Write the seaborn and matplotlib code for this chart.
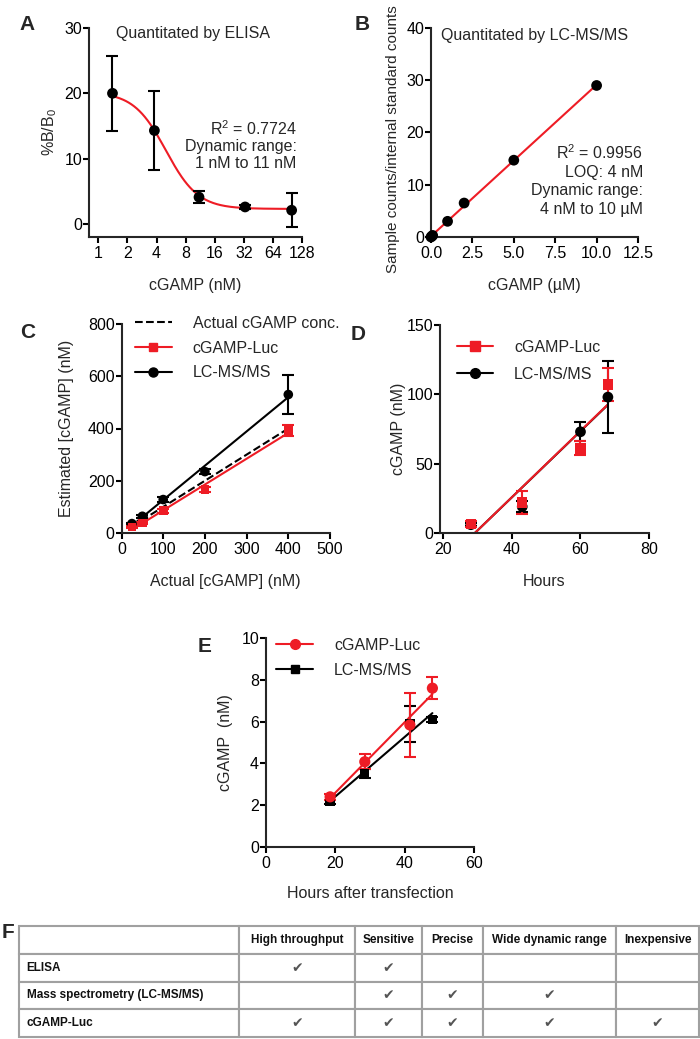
"""Multi-panel cGAMP quantitation figure (A-F)"""

import numpy as np
import matplotlib
matplotlib.use("Agg")
import matplotlib.pyplot as plt
from matplotlib.lines import Line2D
import seaborn as sns

RED = "#ee1c25"
BLACK = "black"

# Panel A - ELISA standard curve
elisa_conc = [1.4, 3.8, 11, 33, 100]
elisa_b = [20.0, 14.3, 4.1, 2.6, 2.1]
elisa_sd = [5.7, 6.0, 0.9, 0.3, 2.6]
# 4PL fit parameters (bottom, top, ec50, hill)
elisa_fit = [2.3, 20.2, 5.0, 2.6]

# Panel B - LC-MS/MS standard curve
ms_conc = [0.0, 0.05, 0.1, 1.0, 2.0, 5.0, 10.0]
ms_ratio = [0.0, 0.15, 0.3, 3.0, 6.5, 14.7, 29.0]

# Panel C - estimated vs actual
actual_conc = [25, 50, 100, 200, 400]
c_luc = [23, 38, 85, 167, 392]
c_luc_sd = [5, 5, 8, 10, 22]
c_ms = [36, 64, 128, 235, 530]
c_ms_sd = [3, 5, 8, 10, 75]

# Panel D - time course
d_hours = [28, 43, 60, 68]
d_luc = [6.6, 22, 61, 107]
d_luc_sd = [2, 8, 5, 12]
d_ms = [6, 19, 73, 98]
d_ms_sd = [1, 4, 7, 26]

# Panel E - hours after transfection
e_hours = [18.5, 28.5, 41.5, 48]
e_luc = [2.4, 4.08, 5.84, 7.6]
e_luc_sd = [0.15, 0.35, 1.55, 0.52]
e_ms = [2.17, 3.53, 5.9, 6.11]
e_ms_sd = [0.1, 0.22, 0.86, 0.12]

# Panel F - comparison table
features = ["High throughput", "Sensitive", "Precise", "Wide dynamic range", "Inexpensive"]
methods = ["ELISA", "Mass spectrometry (LC-MS/MS)", "cGAMP-Luc"]
has_feature = [[1, 1, 0, 0, 0],
               [0, 1, 1, 1, 0],
               [1, 1, 1, 1, 1]]

FS = 11.5

sns.set_style("ticks")
plt.rcParams["font.family"] = ["Liberation Sans", "DejaVu Sans"]
plt.rcParams["mathtext.fontset"] = "custom"
plt.rcParams["mathtext.rm"] = "Liberation Sans"
plt.rcParams["mathtext.default"] = "regular"
plt.rcParams["axes.linewidth"] = 1.5
plt.rcParams["xtick.major.width"] = 1.5
plt.rcParams["ytick.major.width"] = 1.5
plt.rcParams["xtick.major.size"] = 4
plt.rcParams["ytick.major.size"] = 4
plt.rcParams["xtick.major.pad"] = 2.5
plt.rcParams["ytick.major.pad"] = 1
plt.rcParams["xtick.labelsize"] = FS
plt.rcParams["ytick.labelsize"] = FS
plt.rcParams["axes.labelsize"] = FS

W, H = 700, 1039
fig = plt.figure(figsize=(W / 100, H / 100), dpi=100)


def add_ax(left, top, right, bottom):
    return fig.add_axes([left / W, 1 - bottom / H, (right - left) / W, (bottom - top) / H])


def style(ax):
    sns.despine(ax=ax)
    ax.tick_params(direction="out", colors="black")


def errbars(ax, x, y, sd, color):
    ax.errorbar(x, y, yerr=sd, fmt="none", ecolor=color, elinewidth=1.5,
                capsize=4, capthick=1.5, zorder=3)


def legend(ax, handles, labels, anchor, spacing):
    ax.legend(handles, labels, loc="upper left", bbox_to_anchor=anchor,
              frameon=False, fontsize=FS, handlelength=2.3, handletextpad=1.3,
              labelspacing=spacing, borderaxespad=0, borderpad=0)


# ---- A ----
ax_a = add_ax(89, 28, 302, 237)
bottom, top, ec50, hill = elisa_fit
xs = np.geomspace(min(elisa_conc), max(elisa_conc), 200)
fit_a = bottom + (top - bottom) / (1 + (xs / ec50) ** hill)
sns.lineplot(x=xs, y=fit_a, color=RED, lw=1.5, ax=ax_a, zorder=2)
errbars(ax_a, elisa_conc, elisa_b, elisa_sd, BLACK)
sns.scatterplot(x=elisa_conc, y=elisa_b, color=BLACK, s=60, edgecolor="none", ax=ax_a, zorder=4)
ax_a.set_xscale("log", base=2)
a_ticks = [1, 2, 4, 8, 16, 32, 64, 128]
ax_a.set_xticks(a_ticks)
ax_a.set_xticklabels([str(t) for t in a_ticks])
ax_a.minorticks_off()
ax_a.set_xlim(0.8, 128)
ax_a.set_ylim(-2, 30)
ax_a.set_yticks([0, 10, 20, 30])
ax_a.set_xlabel("cGAMP (nM)", labelpad=12)
ax_a.set_ylabel("%B/B$_0$", labelpad=4)
ax_a.text(0.49, 0.975, "Quantitated by ELISA", transform=ax_a.transAxes,
          ha="center", va="center", fontsize=FS)
ax_a.text(0.975, 0.565, "R$^2$ = 0.7724\nDynamic range:\n1 nM to 11 nM",
          transform=ax_a.transAxes, ha="right", va="top", multialignment="right",
          fontsize=FS, linespacing=1.15)
style(ax_a)

# ---- B ----
ax_b = add_ax(431, 28, 638, 237)
sns.regplot(x=ms_conc, y=ms_ratio, scatter=False, ci=None, truncate=True,
            color=RED, line_kws=dict(lw=1.5), ax=ax_b)
sns.scatterplot(x=ms_conc, y=ms_ratio, color=BLACK, s=60, edgecolor="none",
                ax=ax_b, zorder=4, clip_on=False)
ax_b.set_xlim(0, 12.5)
ax_b.set_ylim(0, 40)
ax_b.set_xticks([0, 2.5, 5, 7.5, 10, 12.5])
ax_b.set_xticklabels(["0.0", "2.5", "5.0", "7.5", "10.0", "12.5"])
ax_b.set_yticks([0, 10, 20, 30, 40])
ax_b.set_xlabel("cGAMP (µM)", labelpad=12)
ax_b.set_ylabel("Sample counts/internal standard counts", fontsize=11)
ax_b.yaxis.set_label_coords(-0.15, 0.47)
ax_b.text(0.5, 0.965, "Quantitated by LC-MS/MS", transform=ax_b.transAxes,
          ha="center", va="center", fontsize=FS)
ax_b.text(1.025, 0.45, "R$^2$ = 0.9956\nLOQ: 4 nM\nDynamic range:\n4 nM to 10 µM",
          transform=ax_b.transAxes, ha="right", va="top", multialignment="right",
          fontsize=FS, linespacing=1.28)
style(ax_b)

# ---- C ----
ax_c = add_ax(121.5, 324, 330, 533)
sns.lineplot(x=actual_conc, y=actual_conc, color=BLACK, lw=1.5, linestyle="--", ax=ax_c)
sns.regplot(x=actual_conc, y=c_ms, scatter=False, ci=None, truncate=True,
            color=BLACK, line_kws=dict(lw=1.5), ax=ax_c)
sns.regplot(x=actual_conc, y=c_luc, scatter=False, ci=None, truncate=True,
            color=RED, line_kws=dict(lw=1.5), ax=ax_c)
errbars(ax_c, actual_conc, c_ms, c_ms_sd, BLACK)
errbars(ax_c, actual_conc, c_luc, c_luc_sd, RED)
sns.scatterplot(x=actual_conc, y=c_ms, color=BLACK, marker="o", s=48, edgecolor="none", ax=ax_c, zorder=4)
sns.scatterplot(x=actual_conc, y=c_luc, color=RED, marker="s", s=40, edgecolor="none", ax=ax_c, zorder=5)
ax_c.set_xlim(0, 500)
ax_c.set_ylim(0, 800)
ax_c.set_xticks([0, 100, 200, 300, 400, 500])
ax_c.set_yticks([0, 200, 400, 600, 800])
ax_c.set_xlabel("Actual [cGAMP] (nM)", labelpad=12)
ax_c.set_ylabel("Estimated [cGAMP] (nM)", labelpad=10)
c_handles = [Line2D([], [], color=BLACK, lw=1.5, ls="--"),
             Line2D([], [], color=RED, lw=1.5, marker="s", ms=6),
             Line2D([], [], color=BLACK, lw=1.5, marker="o", ms=6.5)]
legend(ax_c, c_handles, ["Actual cGAMP conc.", "cGAMP-Luc", "LC-MS/MS"], (0.065, 1.04), 0.62)
style(ax_c)

# ---- D ----
ax_d = add_ax(440, 325, 649, 533)
sns.regplot(x=d_hours, y=d_ms, scatter=False, ci=None, truncate=True,
            color=BLACK, line_kws=dict(lw=1.5), ax=ax_d)
sns.regplot(x=d_hours, y=d_luc, scatter=False, ci=None, truncate=True,
            color=RED, line_kws=dict(lw=1.5), ax=ax_d)
errbars(ax_d, d_hours, d_ms, d_ms_sd, BLACK)
errbars(ax_d, d_hours, d_luc, d_luc_sd, RED)
sns.scatterplot(x=d_hours, y=d_ms, color=BLACK, marker="o", s=60, edgecolor="none", ax=ax_d, zorder=4)
sns.scatterplot(x=d_hours, y=d_luc, color=RED, marker="s", s=55, edgecolor="none", ax=ax_d, zorder=5)
ax_d.set_xlim(19, 80)
ax_d.set_ylim(0, 150)
ax_d.set_xticks([20, 40, 60, 80])
ax_d.set_yticks([0, 50, 100, 150])
ax_d.set_xlabel("Hours", labelpad=12)
ax_d.set_ylabel("cGAMP (nM)", labelpad=0)
d_handles = [Line2D([], [], color=RED, lw=1.5, marker="s", ms=7),
             Line2D([], [], color=BLACK, lw=1.5, marker="o", ms=7)]
legend(ax_d, d_handles, ["cGAMP-Luc", "LC-MS/MS"], (0.08, 0.93), 0.75)
style(ax_d)

# ---- E ----
ax_e = add_ax(266, 638, 474, 847)
sns.regplot(x=e_hours, y=e_ms, scatter=False, ci=None, truncate=True,
            color=BLACK, line_kws=dict(lw=1.5), ax=ax_e)
sns.regplot(x=e_hours, y=e_luc, scatter=False, ci=None, truncate=True,
            color=RED, line_kws=dict(lw=1.5), ax=ax_e)
errbars(ax_e, e_hours, e_ms, e_ms_sd, BLACK)
errbars(ax_e, e_hours, e_luc, e_luc_sd, RED)
sns.scatterplot(x=e_hours, y=e_ms, color=BLACK, marker="s", s=45, edgecolor="none", ax=ax_e, zorder=4)
sns.scatterplot(x=e_hours, y=e_luc, color=RED, marker="o", s=65, edgecolor="none", ax=ax_e, zorder=5)
ax_e.set_xlim(0, 60)
ax_e.set_ylim(0, 10)
ax_e.set_xticks([0, 20, 40, 60])
ax_e.set_yticks([0, 2, 4, 6, 8, 10])
ax_e.set_xlabel("Hours after transfection", labelpad=11)
ax_e.set_ylabel("cGAMP  (nM)", labelpad=6)
e_handles = [Line2D([], [], color=RED, lw=1.5, marker="o", ms=7),
             Line2D([], [], color=BLACK, lw=1.5, marker="s", ms=6)]
legend(ax_e, e_handles, ["cGAMP-Luc", "LC-MS/MS"], (0.05, 1.0), 0.62)
style(ax_e)

# ---- F (table) ----
ax_f = add_ax(19, 926, 699, 1037)
ax_f.axis("off")
cell_text = [[m] + ["✔" if v else "" for v in row] for m, row in zip(methods, has_feature)]
col_w = [220, 116, 67, 61, 133, 83]
tbl = ax_f.table(cellText=cell_text, colLabels=[""] + features,
                 colWidths=[w / sum(col_w) for w in col_w], bbox=[0, 0, 1, 1],
                 cellLoc="center")
tbl.auto_set_font_size(False)
for (r, c), cell in tbl.get_celld().items():
    cell.set_edgecolor("#a0a0a0")
    cell.set_linewidth(1.5)
    txt = cell.get_text()
    if r == 0 or c == 0:
        txt.set_fontsize(8.5)
        txt.set_fontweight("bold")
        txt.set_color("#111111")
    else:
        txt.set_fontsize(10)
        txt.set_family("DejaVu Sans")
        txt.set_color("#555555")
    if c == 0:
        cell._loc = "left"
        cell.PAD = 0.035
        txt.set_horizontalalignment("left")

# panel letters
for label, (px, py) in {"A": (27, 25), "B": (362, 25), "C": (28, 333),
                        "D": (358, 335), "E": (205, 647), "F": (8, 933)}.items():
    fig.text(px / W, 1 - py / H, label, fontsize=15, fontweight="bold",
             ha="center", va="center")

fig.savefig("out.png", dpi=100)
